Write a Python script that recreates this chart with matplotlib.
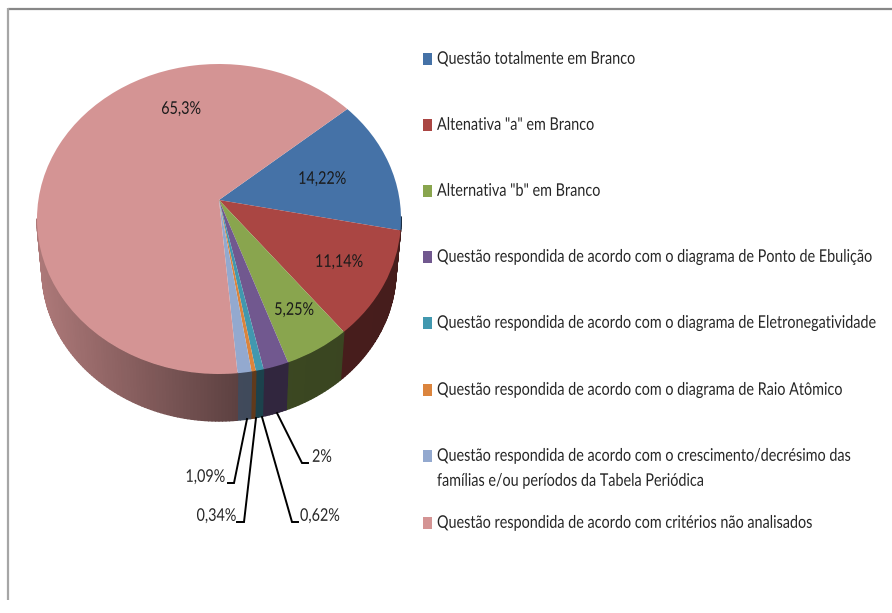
import numpy as np
import matplotlib
matplotlib.use("Agg")
import matplotlib.pyplot as plt
from matplotlib.collections import PolyCollection
from matplotlib.patches import Rectangle
from matplotlib.patheffects import AbstractPathEffect
from matplotlib.transforms import Transform, Affine2D

plt.rcParams['font.family'] = ['Lato', 'Liberation Sans', 'DejaVu Sans']

categories = [
    'Questão totalmente em Branco',
    'Altenativa "a" em Branco',
    'Alternativa "b" em Branco',
    'Questão respondida de acordo com o diagrama de Ponto de Ebulição',
    'Questão respondida de acordo com o diagrama de Eletronegatividade',
    'Questão respondida de acordo com o diagrama de Raio Atômico',
    'Questão respondida de acordo com o crescimento/decrésimo das\nfamílias e/ou períodos da Tabela Periódica',
    'Questão respondida de acordo com critérios não analisados',
]
values = [14.22, 11.14, 5.25, 2, 0.62, 0.34, 1.09, 65.3]
value_labels = ['14,22%', '11,14%', '5,25%', '2%', '0,62%', '0,34%', '1,09%', '65,3%']
colors = ['#4572A7', '#AA4643', '#89A54E', '#71588F', '#4198AF', '#DB843D', '#93A9CF', '#D49494']

W, H = 892, 613
fig = plt.figure(figsize=(W / 100, H / 100), dpi=100)

ov = fig.add_axes([0, 0, 1, 1], zorder=3)
ov.set_xlim(0, W); ov.set_ylim(H, 0); ov.axis('off'); ov.patch.set_alpha(0)

CX, CY, RX, RY = 219, 219, 182, 155
ax = fig.add_axes([(CX - RX) / W, 1 - (CY + RY) / H, 2 * RX / W, 2 * RY / H], zorder=2)

C = (CY - 200) / RY


def persp(x, y):
    d = 1 + C * y
    return x * np.sqrt(1 - C ** 2) / d, (y + C) / d


class Perspective(Transform):
    input_dims = output_dims = 2
    is_separable = False

    def transform_non_affine(self, xy):
        xy = np.asarray(xy, float)
        return np.column_stack(persp(xy[:, 0], xy[:, 1]))


wedges, _ = ax.pie(values, colors=colors, startangle=40, counterclock=False,
                   radius=1, wedgeprops=dict(linewidth=0))
ax.set_aspect('auto')
ax.set_xlim(-1, 1); ax.set_ylim(-1, 1)
ax.axis('off')
persp_tr = Perspective() + ax.transData
for w in wedges:
    w.set_transform(persp_tr)
    w.set_clip_on(False)
    w.set_zorder(5)

BSX, BSY, BDY = 177 / RX, 151 / RY, -(270 - CY) / RY


def shade(xm):
    return np.interp(xm, [-1, 0.1, 1], [0.82, 0.44, 0.41])


polys, fcs = [], []
for w, col in zip(wedges, colors):
    rgb = np.array(matplotlib.colors.to_rgb(col))
    th = np.radians(np.arange(w.theta1, w.theta2 + 1.0, 1.0))
    th[-1] = np.radians(w.theta2)
    x, y = persp(np.cos(th), np.sin(th))
    for i in range(len(th) - 1):
        if y[i] > 0.0 and y[i + 1] > 0.0:
            continue
        polys.append([(x[i], y[i]), (x[i + 1], y[i + 1]),
                      (x[i + 1] * BSX, y[i + 1] * BSY + BDY), (x[i] * BSX, y[i] * BSY + BDY)])
        fcs.append(rgb * shade((x[i] + x[i + 1]) / 2))
ax.add_collection(PolyCollection(polys, facecolors=fcs, edgecolors=fcs, linewidths=1.0,
                                 zorder=1, clip_on=False))

ov.plot([8, W], [8.5, 8.5], color='#878787', lw=1.6, solid_capstyle='butt')
ov.plot([8, 8], [8, 600], color='#a6a6a6', lw=1.6, solid_capstyle='butt')

FS = 10.4        # size used for text layout
TALL = 12.6 / FS  # the reference type is condensed: taller than it is wide
TC = '#262626'

_r = fig.canvas.get_renderer()
_probe = ov.text(0, 0, categories[7], fontsize=FS)
SX = 374 / _probe.get_window_extent(_r).width
_probe.remove()


class Condense(AbstractPathEffect):
    def __init__(self, text):
        super().__init__()
        self.text = text

    def draw_path(self, renderer, gc, tpath, affine, rgbFace=None):
        px, py = self.text.get_transform().transform(self.text.get_position())
        tr = affine + Affine2D().translate(-px, -py).scale(SX, TALL).translate(px, py)
        renderer.draw_path(gc, tpath, tr, rgbFace)


def label(x, y, s, ha='left', color=TC):
    t = ov.text(x, y, s, ha=ha, va='center', fontsize=FS, color=color)
    t.set_path_effects([Condense(t)])
    return t


inner = {0: (322, 179), 1: (339, 262), 2: (294, 310), 7: (181, 109)}
for i, (x, y) in inner.items():
    label(x, y, value_labels[i], ha='center', color='#1a1a1a')

lead = {
    3: ([277, 302, 308], [413, 463, 463], 312, 457, 'left'),
    4: ([262, 292, 298], [417, 522, 522], 300, 516, 'left'),
    5: ([256, 244, 237], [418, 522, 522], 236, 516, 'right'),
    6: ([247, 234, 228], [419, 483, 483], 225, 477, 'right'),
}
for i, (lx, ly, tx, ty, ha) in lead.items():
    ov.plot(lx, ly, color='black', lw=1.4, solid_joinstyle='miter')
    label(tx, ty, value_labels[i], ha=ha)

leg_y = [59, 125, 191, 257, 323, 390, 456, 523]
for cat, col, y in zip(categories, colors, leg_y):
    ov.add_patch(Rectangle((423, y - 6), 9, 12, facecolor=col, edgecolor='none'))
    if '\n' in cat:
        a, b = cat.split('\n')
        label(437, y, a)
        label(437, y + 25, b)
    else:
        label(437, y, cat)

fig.savefig('out.png', dpi=100)
